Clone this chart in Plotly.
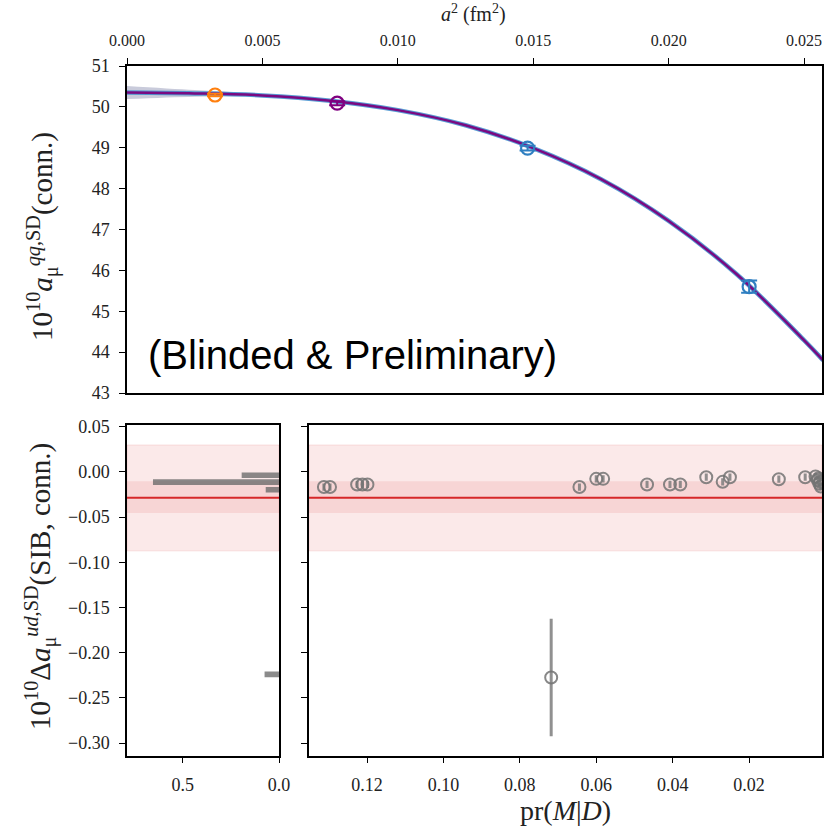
import plotly.graph_objects as go

# ---------------- data ----------------
# top panel: continuum fit curve
curve_a2 = [0.0, 0.0025, 0.005, 0.0075, 0.010, 0.0125, 0.015, 0.0175, 0.020, 0.0225, 0.025, 0.0257]
curve_val = [50.35, 50.33, 50.28, 50.15, 49.92, 49.55, 48.99, 48.23, 47.21, 45.91, 44.29, 43.80]
curve_halfwidth = [0.16, 0.08, 0.03, 0.02, 0.02, 0.02, 0.02, 0.03, 0.04, 0.05, 0.07, 0.08]

# top panel: lattice data points
pt_a2 = [0.00325, 0.00776, 0.01479, 0.02297]
pt_val = [50.29, 50.09, 48.99, 45.60]
pt_err = [0.03, 0.05, 0.06, 0.15]
pt_colors = ["#ff7f0e", "#800080", "#2f7fc1", "#2f7fc1"]

# bottom: model-averaged result band
avg_center = -0.0284
avg_inner = [-0.0454, -0.0102]
avg_outer = [-0.0873, 0.0299]

# bottom-left: histogram of weights
hist_y = [-0.0036, -0.0112, -0.0196, -0.2240]
hist_w = [0.194, 0.655, 0.069, 0.075]

# bottom-right: individual fits vs pr(M|D)
pr = [0.1313, 0.1297, 0.1226, 0.1212, 0.1199, 0.0644, 0.0600, 0.0582, 0.0467, 0.0407,
      0.0380, 0.0312, 0.0269, 0.0250, 0.0122, 0.0053, 0.0026, 0.0020, 0.0016, 0.0012,
      0.0018, 0.0014, 0.0718]
fit_val = [-0.0167, -0.0167, -0.0138, -0.0138, -0.0138, -0.0167, -0.0076, -0.0076, -0.0138, -0.0138,
           -0.0138, -0.0058, -0.0109, -0.0058, -0.0080, -0.0058, -0.0050, -0.0090, -0.0130, -0.0160,
           -0.0070, -0.0110, -0.2274]
fit_err = [0.004] * 22 + [0.065]

top_xticks = [0.000, 0.005, 0.010, 0.015, 0.020, 0.025]
top_yticks = [43, 44, 45, 46, 47, 48, 49, 50, 51]
bot_yticks = [0.05, 0.00, -0.05, -0.10, -0.15, -0.20, -0.25, -0.30]
hist_xticks = [0.5, 0.0]
pr_xticks = [0.12, 0.10, 0.08, 0.06, 0.04, 0.02]

# ---------------- layout helpers ----------------
W, H = 837, 833
def px(x):
    return x / W
def py(y):
    return 1 - y / H

SERIF = "Liberation Serif"

fig = go.Figure()

# top panel band + curves
upper = [v + h for v, h in zip(curve_val, curve_halfwidth)]
lower = [v - h for v, h in zip(curve_val, curve_halfwidth)]
fig.add_trace(go.Scatter(x=curve_a2, y=upper, mode="lines", line=dict(width=0, shape="spline"),
                         showlegend=False, hoverinfo="skip", xaxis="x", yaxis="y"))
fig.add_trace(go.Scatter(x=curve_a2, y=lower, mode="lines", line=dict(width=0, shape="spline"),
                         fill="tonexty", fillcolor="rgba(120,125,165,0.40)",
                         showlegend=False, hoverinfo="skip", xaxis="x", yaxis="y"))
fig.add_trace(go.Scatter(x=curve_a2, y=curve_val, mode="lines",
                         line=dict(color="rgba(60,140,205,0.85)", width=4.5, shape="spline"),
                         showlegend=False, xaxis="x", yaxis="y"))
fig.add_trace(go.Scatter(x=curve_a2, y=curve_val, mode="lines",
                         line=dict(color="#7a0a82", width=2.5, shape="spline"),
                         showlegend=False, xaxis="x", yaxis="y"))

for xa, va, ea, ca in zip(pt_a2, pt_val, pt_err, pt_colors):
    fig.add_trace(go.Scatter(
        x=[xa], y=[va], mode="markers",
        marker=dict(symbol="circle-open", size=13, color=ca, line=dict(width=2.2, color=ca)),
        error_y=dict(type="data", array=[ea], color=ca, thickness=2, width=8),
        showlegend=False, xaxis="x", yaxis="y"))

# bottom-left histogram
fig.add_trace(go.Bar(x=hist_w, y=hist_y, orientation="h", width=0.0062,
                     marker=dict(color="rgba(100,100,100,0.75)", line=dict(width=0)),
                     showlegend=False, xaxis="x2", yaxis="y2"))

# bottom-right points
fig.add_trace(go.Scatter(
    x=pr, y=fit_val, mode="markers",
    marker=dict(symbol="circle-open", size=12, color="rgba(115,115,115,0.85)",
                line=dict(width=2, color="rgba(115,115,115,0.85)")),
    error_y=dict(type="data", array=fit_err, color="rgba(125,125,125,0.85)", thickness=3, width=0),
    showlegend=False, xaxis="x3", yaxis="y3"))

# bands as shapes
shapes = []
for xr in ["x2 domain", "x3 domain"]:
    yr = "y2" if xr.startswith("x2") else "y3"
    shapes.append(dict(type="rect", xref=xr, yref=yr, x0=0, x1=1, y0=avg_outer[0], y1=avg_outer[1],
                       fillcolor="rgba(214,39,40,0.10)", line=dict(width=1, color="rgba(214,39,40,0.12)"),
                       layer="below"))
    shapes.append(dict(type="rect", xref=xr, yref=yr, x0=0, x1=1, y0=avg_inner[0], y1=avg_inner[1],
                       fillcolor="rgba(214,39,40,0.10)", line=dict(width=0), layer="below"))
    shapes.append(dict(type="line", xref=xr, yref=yr, x0=0, x1=1, y0=avg_center, y1=avg_center,
                       line=dict(color="#d62728", width=2), layer="below"))

axis_common = dict(showline=True, linecolor="black", linewidth=1.5, mirror=True,
                   ticks="outside", ticklen=6, tickwidth=1.2, tickcolor="black",
                   showgrid=False, zeroline=False, ticklabelstandoff=6, automargin=False,
                   tickfont=dict(family=SERIF, size=18, color="#222"))

fig.update_layout(
    width=W, height=H, margin=dict(l=0, r=0, t=0, b=0),
    plot_bgcolor="white", paper_bgcolor="white",
    xaxis=dict(axis_common, domain=[px(127), px(822)], range=[0, 0.02566], side="top",
               tickvals=top_xticks, tickformat=".3f", anchor="y",
               tickfont=dict(family=SERIF, size=16, color="#222")),
    yaxis=dict(axis_common, domain=[py(393), py(66)], range=[43, 51], tickvals=top_yticks, anchor="x"),
    xaxis2=dict(axis_common, domain=[px(127), px(279)], range=[0.79, 0], tickvals=hist_xticks,
                tickformat=".1f", anchor="y2"),
    yaxis2=dict(axis_common, domain=[py(755.7), py(425)], range=[-0.314, 0.052], tickvals=bot_yticks,
                tickformat=".2f", anchor="x2"),
    xaxis3=dict(axis_common, domain=[px(309), px(822)], range=[0.1352, 0.0009], tickvals=pr_xticks,
                tickformat=".2f", anchor="y3"),
    yaxis3=dict(axis_common, domain=[py(755.7), py(425)], range=[-0.314, 0.052], tickvals=bot_yticks,
                showticklabels=False, anchor="x3"),
    shapes=shapes,
    annotations=[
        dict(text="<i>a</i><sup>2</sup> (fm<sup>2</sup>)", xref="paper", yref="paper",
             x=px(473), y=py(13), showarrow=False, xanchor="center", yanchor="middle",
             font=dict(family=SERIF, size=20, color="#222")),
        dict(text="10<sup>10</sup><i>a</i><sub>μ</sub><sup><i>qq</i>,SD</sup>(conn.)", xref="paper", yref="paper",
             x=px(42), y=py(237), showarrow=False, textangle=-90, xanchor="center", yanchor="middle",
             font=dict(family=SERIF, size=29, color="#222")),
        dict(text="10<sup>10</sup>Δ<i>a</i><sub>μ</sub><sup><i>ud</i>,SD</sup>(SIB, conn.)", xref="paper", yref="paper",
             x=px(40), y=py(587), showarrow=False, textangle=-90, xanchor="center", yanchor="middle",
             font=dict(family=SERIF, size=29, color="#222")),
        dict(text="pr(<i>M</i>|<i>D</i>)", xref="paper", yref="paper",
             x=px(565), y=py(810), showarrow=False, xanchor="center", yanchor="middle",
             font=dict(family=SERIF, size=28, color="#222")),
        dict(text="(Blinded &amp; Preliminary)", xref="paper", yref="paper",
             x=px(146), y=py(355), showarrow=False, xanchor="left", yanchor="middle",
             font=dict(family="Liberation Sans", size=40, color="black")),
    ],
)

fig.write_html("out.html", config={"displayModeBar": False},
               post_script="document.body.style.margin='0';")
